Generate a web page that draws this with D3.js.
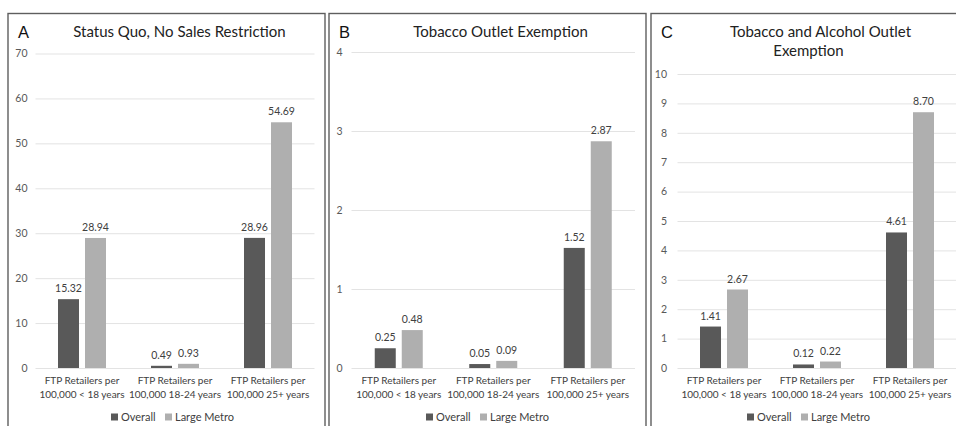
<!DOCTYPE html>
<html><head><meta charset="utf-8">
<script src="https://cdn.jsdelivr.net/npm/d3@7"></script>
<style>
html,body{margin:0;padding:0;background:#fff;}
svg{display:block;}
text{font-family:Lato,"Open Sans",sans-serif;}
</style></head>
<body>
<svg id="chart" width="956" height="426"></svg>
<script>
// ---- data ----
const categories = ["FTP Retailers per 100,000 < 18 years", "FTP Retailers per 100,000 18-24 years", "FTP Retailers per 100,000 25+ years"];
const categoryLines = [["FTP Retailers per", "100,000 < 18 years"], ["FTP Retailers per", "100,000 18-24 years"], ["FTP Retailers per", "100,000 25+ years"]];
const seriesNames = ["Overall", "Large Metro"];
const panelLetters = ["A", "B", "C"];
const panelTitles = [["Status Quo, No Sales Restriction"], ["Tobacco Outlet Exemption"], ["Tobacco and Alcohol Outlet", "Exemption"]];
const overallA = [15.32, 0.49, 28.96];
const metroA = [28.94, 0.93, 54.69];
const overallB = [0.25, 0.05, 1.52];
const metroB = [0.48, 0.09, 2.87];
const overallC = [1.41, 0.12, 4.61];
const metroC = [2.67, 0.22, 8.70];
const ticksA = [0, 10, 20, 30, 40, 50, 60, 70];
const ticksB = [0, 1, 2, 3, 4];
const ticksC = [0, 1, 2, 3, 4, 5, 6, 7, 8, 9, 10];

// ---- layout / style ----
const colors = {"Overall": "#595959", "Large Metro": "#afafaf"};
const svg = d3.select("#chart");
const panels = [
  {box: 8,   plotL: 35.5,  plotR: 314.5, top: 53.5, tickX: 27.5,  ticks: ticksA, vals: [overallA, metroA], titleX: [179.5], titleY: [37], legendX: 175},
  {box: 329, plotL: 351.5, plotR: 635,   top: 52,   tickX: 342.5, ticks: ticksB, vals: [overallB, metroB], titleX: [500.5], titleY: [37], legendX: 490},
  {box: 651, plotL: 677.5, plotR: 956.5, top: 74,   tickX: 667,   ticks: ticksC, vals: [overallC, metroC], titleX: [820.5, 808.5], titleY: [37, 56], legendX: 811}
];
const baseY = 368;

panels.forEach((p, i) => {
  const g = svg.append("g");
  // panel border (open at bottom, extends beyond view)
  g.append("rect").attr("x", p.box).attr("y", 13.5).attr("width", 317).attr("height", 430)
    .attr("fill", "none").attr("stroke", "#5e5e5e").attr("stroke-width", 1.4);

  const y = d3.scaleLinear().domain([0, d3.max(p.ticks)]).range([baseY, p.top]);
  const x0 = d3.scaleBand().domain(categories).range([p.plotL, p.plotR]).padding(0);
  const bw = x0.bandwidth();
  const x1 = d3.scaleBand().domain(seriesNames).range([bw / 2 - 24, bw / 2 + 24]).paddingInner(0.222).paddingOuter(0);

  // y grid + tick labels
  const yAxis = d3.axisLeft(y).tickValues(p.ticks).tickSize(-(p.plotR - p.plotL)).tickPadding(0).tickFormat(d3.format("d"));
  const ya = g.append("g").attr("transform", `translate(${p.plotL},0)`).call(yAxis);
  ya.select(".domain").remove();
  ya.selectAll(".tick line").attr("stroke", "#e3e3e3").attr("stroke-width", 1);
  ya.selectAll(".tick text").attr("x", p.tickX - p.plotL).attr("fill", "#595959")
    .style("font-size", "10.5px").style("font-family", "Lato, sans-serif");

  // bars
  const grp = g.selectAll(".cat").data(categories).join("g").attr("transform", d => `translate(${x0(d)},0)`);
  seriesNames.forEach((s, si) => {
    grp.append("rect")
      .attr("x", x1(s)).attr("width", x1.bandwidth())
      .attr("y", (d, ci) => y(p.vals[si][ci]))
      .attr("height", (d, ci) => baseY - y(p.vals[si][ci]))
      .attr("fill", colors[s]);
    grp.append("text")
      .attr("x", x1(s) + x1.bandwidth() / 2)
      .attr("y", (d, ci) => y(p.vals[si][ci]) - 7)
      .attr("text-anchor", "middle").attr("fill", "#404040")
      .style("font-size", "10.5px")
      .text((d, ci) => d3.format(".2f")(p.vals[si][ci]));
  });

  // category axis
  const xAxis = d3.axisBottom(x0).tickSize(0).tickPadding(0);
  const xa = g.append("g").attr("transform", `translate(0,${baseY})`).call(xAxis);
  xa.select(".domain").remove();
  xa.selectAll(".tick text").each(function(d, ci) {
    const t = d3.select(this).text(null).attr("y", 0).attr("dy", null).attr("fill", "#404040")
      .style("font-size", "10px").style("font-family", "Lato, sans-serif");
    categoryLines[ci].forEach((ln, li) => {
      t.append("tspan").attr("x", 0).attr("y", 15.5 + li * 14.5).text(ln);
    });
  });

  // letter
  g.append("text").attr("x", p.box + 10).attr("y", 38).attr("fill", "#111")
    .style("font-family", "'Liberation Sans', Arial, sans-serif").style("font-size", "16.5px").text(panelLetters[i]);
  // title
  panelTitles[i].forEach((ln, li) => {
    g.append("text").attr("x", p.titleX[li]).attr("y", p.titleY[li]).attr("text-anchor", "middle")
      .attr("fill", "#222").style("font-size", "15px").text(ln);
  });

  // legend
  const lg = g.append("g").attr("transform", `translate(${p.legendX},417)`);
  const items = [{name: "Overall", x: -64}, {name: "Large Metro", x: -10}];
  items.forEach(it => {
    lg.append("rect").attr("x", it.x).attr("y", -3.5).attr("width", 7).attr("height", 7).attr("fill", colors[it.name]);
    lg.append("text").attr("x", it.x + 10).attr("y", 4).attr("fill", "#404040").style("font-size", "11px").text(it.name);
  });
});
</script>
</body></html>
